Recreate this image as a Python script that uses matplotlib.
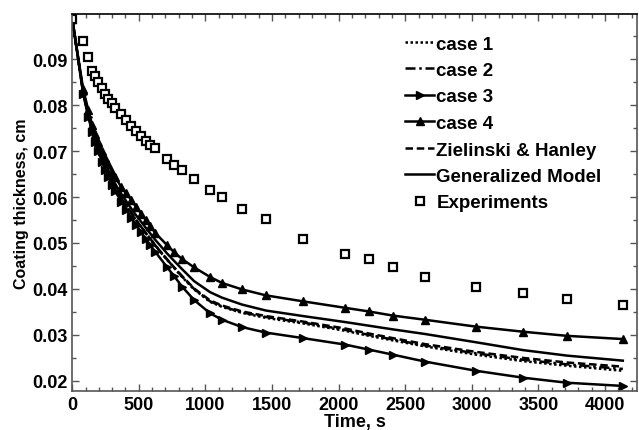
import matplotlib
matplotlib.use("Agg")
import matplotlib.pyplot as plt
from matplotlib.ticker import MultipleLocator

plt.rcParams['font.family'] = ['Liberation Sans', 'DejaVu Sans']
plt.rcParams['font.weight'] = 'bold'

# times of the experimental points (the model markers sit on the same times)
time = [0, 82, 120, 150, 172, 195, 225, 248, 270, 300, 322, 368, 405, 443, 480,
        518, 555, 585, 623, 713, 765, 825, 915, 1035, 1125, 1275, 1455, 1733,
        2048, 2228, 2408, 2648, 3031, 3383, 3713, 4133]

case1 = [0.0988, 0.0828, 0.0779, 0.0746, 0.0725, 0.0705, 0.0682, 0.0666, 0.0651,
         0.0633, 0.0621, 0.0598, 0.0581, 0.0565, 0.0549, 0.0534, 0.0520, 0.0509,
         0.0494, 0.0463, 0.0446, 0.0426, 0.0399, 0.0372, 0.0361, 0.0348, 0.0337,
         0.0325, 0.0309, 0.0298, 0.0288, 0.0275, 0.0257, 0.0243, 0.0233, 0.0222]
case2 = [0.0988, 0.0828, 0.0779, 0.0746, 0.0725, 0.0705, 0.0682, 0.0666, 0.0651,
         0.0633, 0.0621, 0.0598, 0.0581, 0.0565, 0.0549, 0.0535, 0.0521, 0.0510,
         0.0495, 0.0464, 0.0446, 0.0427, 0.0400, 0.0373, 0.0362, 0.0349, 0.0339,
         0.0327, 0.0311, 0.0300, 0.0290, 0.0277, 0.0260, 0.0246, 0.0236, 0.0226]
case3 = [0.0988, 0.0825, 0.0775, 0.0742, 0.0720, 0.0700, 0.0676, 0.0659, 0.0644,
         0.0626, 0.0613, 0.0590, 0.0572, 0.0555, 0.0539, 0.0523, 0.0508, 0.0496,
         0.0481, 0.0447, 0.0428, 0.0405, 0.0376, 0.0347, 0.0333, 0.0317, 0.0305,
         0.0293, 0.0279, 0.0268, 0.0257, 0.0242, 0.0222, 0.0207, 0.0196, 0.0189]
case4 = [0.0988, 0.0835, 0.0790, 0.0757, 0.0738, 0.0720, 0.0700, 0.0685, 0.0671,
         0.0655, 0.0643, 0.0622, 0.0608, 0.0594, 0.0578, 0.0564, 0.0549, 0.0538,
         0.0522, 0.0495, 0.0480, 0.0465, 0.0447, 0.0426, 0.0413, 0.0399, 0.0386,
         0.0373, 0.0359, 0.0351, 0.0342, 0.0333, 0.0318, 0.0307, 0.0298, 0.0291]
zielinski = [0.0988, 0.0829, 0.0780, 0.0747, 0.0726, 0.0706, 0.0683, 0.0667, 0.0652,
             0.0634, 0.0622, 0.0599, 0.0582, 0.0566, 0.0550, 0.0535, 0.0521, 0.0510,
             0.0495, 0.0464, 0.0447, 0.0428, 0.0401, 0.0375, 0.0364, 0.0351, 0.0341,
             0.0329, 0.0314, 0.0303, 0.0293, 0.0280, 0.0263, 0.0250, 0.0240, 0.0231]
generalized = [0.0988, 0.0830, 0.0782, 0.0750, 0.0729, 0.0710, 0.0688, 0.0672, 0.0658,
               0.0641, 0.0629, 0.0607, 0.0591, 0.0575, 0.0560, 0.0546, 0.0532, 0.0521,
               0.0507, 0.0477, 0.0461, 0.0443, 0.0417, 0.0393, 0.0381, 0.0366, 0.0353,
               0.0341, 0.0328, 0.0320, 0.0312, 0.0302, 0.0284, 0.0267, 0.0255, 0.0244]
experiments = [0.0988, 0.0940, 0.0905, 0.0875, 0.0864, 0.0851, 0.0838, 0.0824, 0.0814,
               0.0805, 0.0794, 0.0781, 0.0768, 0.0755, 0.0744, 0.0733, 0.0722, 0.0713,
               0.0707, 0.0683, 0.0669, 0.0659, 0.0639, 0.0615, 0.0600, 0.0573, 0.0552,
               0.0508, 0.0477, 0.0466, 0.0447, 0.0427, 0.0405, 0.0392, 0.0379, 0.0366]

fig = plt.figure(figsize=(6.39, 4.31), dpi=100)
ax = fig.add_axes([0.113, 0.0905, 0.884, 0.8745])

lw = 1.8
ax.plot(time, case1, color='black', lw=lw, ls=(0, (1, 1)), label='case 1')
ax.plot(time, case2, color='black', lw=lw, ls=(0, (4, 1.5, 1, 1.5)), label='case 2')
ax.plot(time, case3, color='black', lw=lw, marker='>', ms=5.5, label='case 3')
ax.plot(time, case4, color='black', lw=lw, marker='^', ms=5.5, label='case 4')
ax.plot(time, zielinski, color='black', lw=lw, ls=(0, (3, 1.5)), label='Zielinski & Hanley')
ax.plot(time, generalized, color='black', lw=lw, label='Generalized Model')
ax.plot(time, experiments, ls='none', marker='s', ms=6, mfc='white', mec='black',
        mew=1.6, label='Experiments')

ax.set_xlim(0, 4240)
ax.set_ylim(0.0178, 0.0998)
ax.xaxis.set_major_locator(MultipleLocator(500))
ax.xaxis.set_minor_locator(MultipleLocator(100))
ax.yaxis.set_major_locator(MultipleLocator(0.01))
ax.yaxis.set_minor_locator(MultipleLocator(0.005))
ax.tick_params(which='both', direction='in', top=True, right=True,
               labelsize=13, colors='#555555', labelcolor='black', width=1)
ax.tick_params(which='major', length=5)
ax.tick_params(which='minor', length=3)
for lab in ax.get_xticklabels() + ax.get_yticklabels():
    lab.set_fontweight('bold')
for s in ax.spines.values():
    s.set_color('#555555')
    s.set_linewidth(1.2)
ax.spines['top'].set_color('black')

ax.set_xlabel('Time, s', fontsize=13, fontweight='bold', labelpad=0)
ax.set_ylabel('Coating thickness, cm', fontsize=11.5, fontweight='bold', labelpad=2)

ax.legend(loc='upper left', bbox_to_anchor=(396 / 639, 1 - 27 / 431),
          bbox_transform=fig.transFigure, frameon=False,
          handlelength=1.55, handletextpad=0.1, labelspacing=0.5, borderpad=0,
          prop={'weight': 'bold', 'size': 13.5})

fig.savefig('out.png', dpi=100)
